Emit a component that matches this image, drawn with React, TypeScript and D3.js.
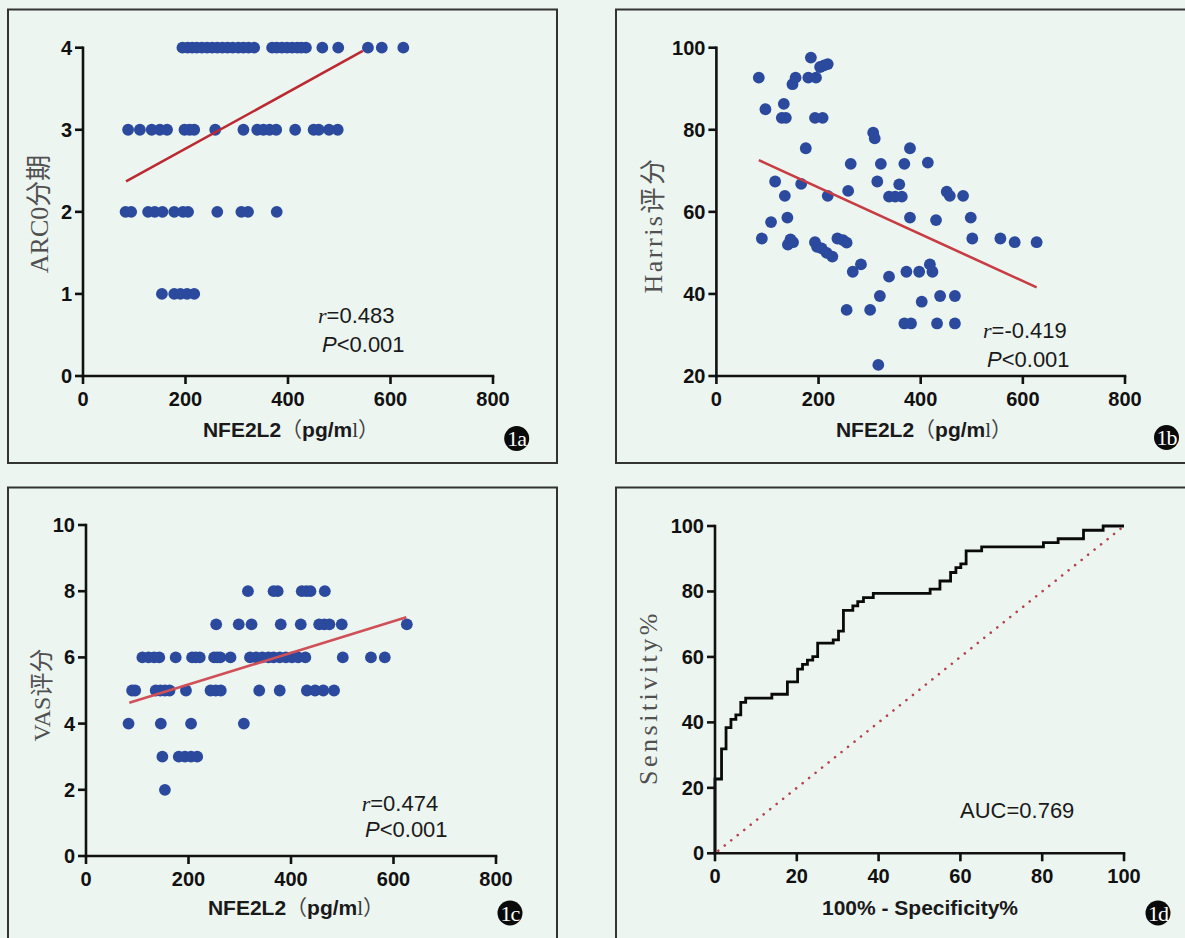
import React from "react";
import * as d3 from "d3";

// ---- 1a: ARCO stage vs NFE2L2 (x values per stage row)
const arcoStage4 = [194, 204, 213, 222, 232, 242, 252, 262, 272, 282, 292, 303, 313, 323, 334, 369, 378, 388, 398, 408, 418, 426, 435, 467, 498, 556, 583, 625];
const arcoStage3 = [88, 111, 134, 150, 164, 198, 208, 217, 258, 313, 340, 352, 364, 377, 414, 450, 460, 480, 497];
const arcoStage2 = [83, 94, 127, 140, 155, 178, 195, 205, 262, 309, 322, 378];
const arcoStage1 = [154, 178, 190, 203, 217];
const arcoFit = [[84, 2.37], [546, 3.96]];

// ---- 1b: Harris score vs NFE2L2
const harrisPoints = [
  [83, 92.7], [96, 85.0], [132, 86.3], [128, 82.9], [136, 82.9], [149, 91.1], [155, 92.7],
  [185, 97.6], [180, 92.7], [195, 92.7], [203, 95.3], [211, 95.7], [218, 96.0],
  [193, 82.9], [208, 82.9], [175, 75.5], [89, 53.5], [107, 57.5], [115, 67.4], [134, 63.9],
  [139, 58.6], [140, 52.0], [145, 53.3], [150, 52.6], [166, 66.8], [193, 52.6], [197, 51.5],
  [206, 51.1], [216, 50.0], [227, 49.1], [218, 63.9], [237, 53.5], [248, 53.1], [255, 52.5],
  [267, 45.4], [283, 47.2], [255, 36.1], [301, 36.1], [263, 71.7], [258, 65.1], [307, 79.3],
  [310, 77.9], [322, 71.7], [315, 67.4], [320, 39.5], [317, 22.7], [338, 44.2], [338, 63.7],
  [350, 63.7], [363, 63.7], [358, 66.7], [368, 71.7], [379, 75.5], [379, 58.6], [372, 45.4],
  [368, 32.8], [381, 32.8], [397, 45.4], [402, 38.1], [414, 72.0], [418, 47.2], [423, 45.4],
  [430, 58.0], [432, 32.8], [438, 39.5], [451, 64.9], [457, 63.9], [467, 39.5], [467, 32.8],
  [483, 63.9], [498, 58.6], [501, 53.5], [556, 53.5], [584, 52.6], [627, 52.6],
];
const harrisFit = [[83, 72.6], [627, 41.6]];

// ---- 1c: VAS score vs NFE2L2 (x values per score row)
const vas8 = [316, 366, 374, 421, 430, 438, 466];
const vas7 = [254, 298, 323, 380, 419, 455, 465, 475, 499, 626];
const vas6 = [110, 122, 133, 143, 175, 207, 214, 222, 250, 256, 262, 282, 320, 332, 344, 356, 366, 378, 390, 402, 414, 428, 501, 556, 583];
const vas5 = [90, 96, 136, 145, 154, 163, 195, 243, 253, 263, 338, 378, 431, 447, 463, 484];
const vas4 = [83, 146, 205, 308];
const vas3 = [149, 181, 193, 205, 217];
const vas2 = [154];
const vasFit = [[84.5, 4.63], [625, 7.21]];

// ---- 1d: ROC curve
const rocFpr = [0, 0, 1.6, 2.7, 3.9, 5.1, 6.3, 7.5, 13.9, 17.7, 20.2, 21.4, 22.6, 23.9, 25.1, 28.9, 30.2, 31.4, 33.7, 34.9, 36.3, 38.7, 52.6, 55.0, 57.6, 58.9, 60.1, 61.4, 65.2, 80.3, 83.9, 90.1, 94.9, 100];
const rocTpr = [0, 22.7, 31.9, 38.4, 40.9, 42.3, 46.1, 47.4, 48.6, 52.4, 56.3, 57.7, 59.0, 60.1, 64.2, 65.2, 67.9, 74.2, 75.6, 76.9, 78.1, 79.4, 80.7, 83.2, 85.8, 87.3, 88.4, 92.4, 93.6, 94.9, 96.1, 98.7, 100, 100];

const xTicksNfe = [0, 200, 400, 600, 800];
const yTicksArco = [0, 1, 2, 3, 4];
const yTicksHarris = [20, 40, 60, 80, 100];
const yTicksVas = [0, 2, 4, 6, 8, 10];
const ticksRoc = [0, 20, 40, 60, 80, 100];

const rowsToPoints = (rows: [number, number[]][]) =>
  rows.flatMap(([y, xs]) => xs.map((x) => [x, y]));

const arcoPoints = rowsToPoints([[4, arcoStage4], [3, arcoStage3], [2, arcoStage2], [1, arcoStage1]]);
const vasPoints = rowsToPoints([[8, vas8], [7, vas7], [6, vas6], [5, vas5], [4, vas4], [3, vas3], [2, vas2]]);

const BG = "#edf5f0";
const DOT = "#2b4a9e";
const SANS = "'Liberation Sans', Arial, sans-serif";
const SERIF = "'Liberation Serif', 'Times New Roman', 'Noto Sans CJK SC', serif";
const CJK = "'Noto Sans CJK SC', sans-serif";

function Axes({ xs, ys, xTicks, yTicks }: any) {
  const [x0, x1] = xs.range();
  const [y0, y1] = ys.range();
  return (
    <g>
      <line x1={x0} y1={y0} x2={x1} y2={y0} stroke="#111" strokeWidth={2.6} strokeLinecap="square" />
      <line x1={x0} y1={y0} x2={x0} y2={y1} stroke="#111" strokeWidth={2.6} strokeLinecap="square" />
      {xTicks.map((t: number) => (
        <g key={"x" + t}>
          <line x1={xs(t)} x2={xs(t)} y1={y0} y2={y0 + 8} stroke="#111" strokeWidth={2.6} />
          <text x={xs(t)} y={y0 + 30} textAnchor="middle" fontFamily={SANS} fontWeight="bold" fontSize={20} fill="#111">{t}</text>
        </g>
      ))}
      {yTicks.map((t: number) => (
        <g key={"y" + t}>
          <line x1={x0 - 8} x2={x0} y1={ys(t)} y2={ys(t)} stroke="#111" strokeWidth={2.6} />
          <text x={x0 - 11} y={ys(t) + 7} textAnchor="end" fontFamily={SANS} fontWeight="bold" fontSize={20} fill="#111">{t}</text>
        </g>
      ))}
    </g>
  );
}

function YLabel({ x, y, text, size = 26, spacing = 0 }: any) {
  return (
    <text transform={`translate(${x},${y}) rotate(-90)`} textAnchor="middle" fontFamily={SERIF} fontSize={size} letterSpacing={spacing} fill="#505050">{text}</text>
  );
}

function NfeLabel({ x, y }: any) {
  return (
    <text x={x} y={y} textAnchor="middle" fontSize={21} fill="#1a1a1a">
      <tspan fontFamily={SANS} fontWeight="bold">NFE2L2</tspan>
      <tspan fontFamily={CJK} fill="#444">（</tspan>
      <tspan fontFamily={SANS} fontWeight="bold">pg/m</tspan>
      <tspan fontFamily={SERIF} fill="#333">l</tspan>
      <tspan fontFamily={CJK} fill="#444">）</tspan>
    </text>
  );
}

function Stats({ rx, ry, px, py, r }: any) {
  return (
    <g fontSize={22} fill="#1a1a1a">
      <text x={rx} y={ry}>
        <tspan fontFamily={SERIF} fontStyle="italic">r</tspan>
        <tspan fontFamily={SANS}>={r}</tspan>
      </text>
      <text x={px} y={py}>
        <tspan fontFamily={SANS} fontStyle="italic">P</tspan>
        <tspan fontFamily={SANS}>{"<0.001"}</tspan>
      </text>
    </g>
  );
}

function Badge({ x, y, text }: any) {
  return (
    <g>
      <circle cx={x} cy={y} r={12.5} fill="#0a0a0a" />
      <text x={x} y={y + 7.5} textAnchor="middle" fontFamily={SERIF} fontSize={22} letterSpacing={-1} fill="#fff">{text}</text>
    </g>
  );
}

function Scatter({ xRange, yRange, yDomain, yTicks, points, fit, fitColor }: any) {
  const xs = d3.scaleLinear().domain([0, 800]).range(xRange);
  const ys = d3.scaleLinear().domain(yDomain).range(yRange);
  const line = d3.line<number[]>().x((d) => xs(d[0])).y((d) => ys(d[1]));
  return (
    <g>
      <Axes xs={xs} ys={ys} xTicks={xTicksNfe} yTicks={yTicks} />
      {points.map((d: number[], i: number) => (
        <circle key={i} cx={xs(d[0])} cy={ys(d[1])} r={5.9} fill={DOT} />
      ))}
      <path d={line(fit) || ""} stroke={fitColor} strokeWidth={2.6} fill="none" />
    </g>
  );
}

function Roc() {
  const xs = d3.scaleLinear().domain([0, 100]).range([715, 1124]);
  const ys = d3.scaleLinear().domain([0, 100]).range([853.3, 526]);
  const pts = rocFpr.map((x, i) => [x, rocTpr[i]]);
  const step = d3.line<number[]>().x((d) => xs(d[0])).y((d) => ys(d[1])).curve(d3.curveStepAfter);
  return (
    <g>
      <line x1={xs(0.8)} y1={ys(0.8)} x2={xs(100)} y2={ys(100)} stroke="#b5404e" strokeWidth={2.6} strokeLinecap="round" strokeDasharray="0.01 8.3" />
      <path d={step(pts) || ""} stroke="#0a0a0a" strokeWidth={2.8} fill="none" />
      <Axes xs={xs} ys={ys} xTicks={ticksRoc} yTicks={ticksRoc} />
    </g>
  );
}

export default function App() {
  return (
    <svg width={1185} height={938} style={{ position: "absolute", left: 0, top: 0, display: "block" }}>
      <rect x={0} y={0} width={1185} height={938} fill={BG} />
      {/* frames */}
      <rect x={8} y={9.5} width={549} height={453.5} fill="none" stroke="#333" strokeWidth={2} />
      <rect x={616} y={9.5} width={590} height={453.5} fill="none" stroke="#333" strokeWidth={2} />
      <rect x={8} y={487.5} width={549} height={520} fill="none" stroke="#333" strokeWidth={2} />
      <rect x={616} y={487.5} width={590} height={520} fill="none" stroke="#333" strokeWidth={2} />

      {/* 1a */}
      <Scatter xRange={[83, 493]} yRange={[376, 47.7]} yDomain={[0, 4]} yTicks={yTicksArco} points={arcoPoints} fit={arcoFit} fitColor="#bb2a32" />
      <YLabel x={48} y={214} text="ARC0分期" />
      <NfeLabel x={291} y={437} />
      <Stats rx={318} ry={323} px={322} py={352} r="0.483" />
      <Badge x={516.7} y={438.5} text="1a" />

      {/* 1b */}
      <Scatter xRange={[716.4, 1125]} yRange={[376, 47.7]} yDomain={[20, 100]} yTicks={yTicksHarris} points={harrisPoints} fit={harrisFit} fitColor="#c83c44" />
      <YLabel x={662} y={225} text="Harris评分" spacing={2.5} />
      <NfeLabel x={924} y={437} />
      <Stats rx={983} ry={338} px={987} py={367} r="-0.419" />
      <Badge x={1166.5} y={437.5} text="1b" />

      {/* 1c */}
      <Scatter xRange={[86, 496]} yRange={[856, 525]} yDomain={[0, 10]} yTicks={yTicksVas} points={vasPoints} fit={vasFit} fitColor="#d0505a" />
      <YLabel x={50} y={695} text="VAS评分" size={24} />
      <NfeLabel x={296} y={915} />
      <Stats rx={361.7} ry={811} px={365} py={837} r="0.474" />
      <Badge x={510} y={913} text="1c" />

      {/* 1d */}
      <Roc />
      <YLabel x={657} y={697.5} text="Sensitivity%" spacing={3.5} />
      <text x={920} y={915} textAnchor="middle" fontFamily={SANS} fontWeight="bold" fontSize={21} fill="#1a1a1a">100% - Specificity%</text>
      <text x={960} y={818} fontFamily={SANS} fontSize={22} fill="#1a1a1a">AUC=0.769</text>
      <Badge x={1158} y={913} text="1d" />
    </svg>
  );
}
